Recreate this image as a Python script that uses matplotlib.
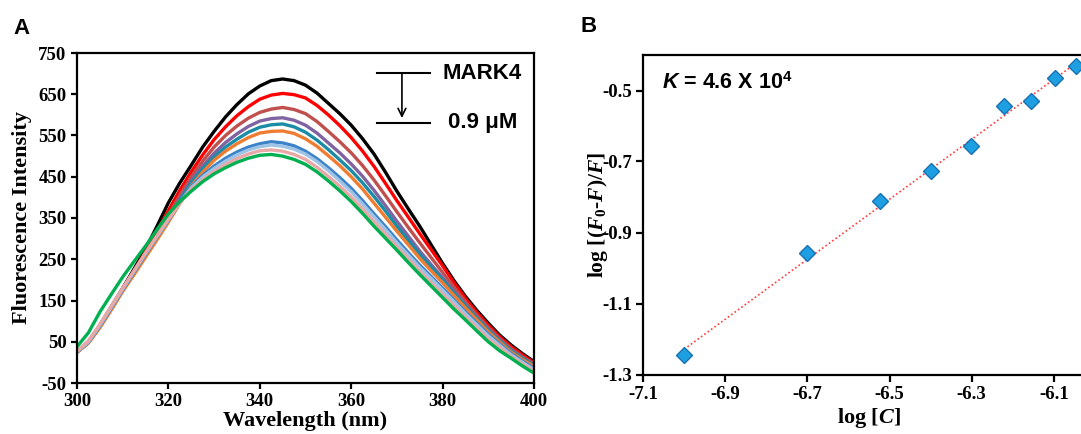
import numpy as np
import matplotlib
matplotlib.use("Agg")
import matplotlib.pyplot as plt

plt.rcParams['mathtext.fontset'] = 'custom'
plt.rcParams['mathtext.rm'] = 'Liberation Serif:bold'
plt.rcParams['mathtext.it'] = 'Liberation Serif:italic:bold'
plt.rcParams['mathtext.bf'] = 'Liberation Sans:bold'
plt.rcParams['mathtext.bfit'] = 'Liberation Sans:italic:bold'
plt.rcParams['axes.unicode_minus'] = False

# ---------------- Panel A data ----------------
wavelength = [300, 302.5, 305, 307.5, 310, 312.5, 315, 317.5, 320, 322.5, 325,
              327.5, 330, 332.5, 335, 337.5, 340, 342.5, 345, 347.5, 350,
              352.5, 355, 357.5, 360, 362.5, 365, 367.5, 370, 372.5, 375,
              377.5, 380, 382.5, 385, 387.5, 390, 392.5, 395, 397.5, 400]

mark4_0 = [26, 50, 90, 135, 180, 227, 275, 330, 387, 435, 478, 522, 560, 595, 625, 651, 670, 683, 687, 683, 672,
           653, 628, 603, 575, 542, 505, 461, 415, 372, 330, 285, 240, 198, 160, 126, 95, 66, 42, 21, 2]
conc_1 = [26, 50, 89, 133, 178, 222, 268, 318, 368, 417, 462, 503, 540, 571, 598, 620, 638, 648, 652, 649, 641,
          623, 600, 574, 545, 512, 475, 434, 392, 352, 312, 273, 234, 193, 155, 121, 90, 62, 38, 18, -1]
conc_2 = [25, 49, 87, 131, 176, 219, 263, 308, 356, 405, 450, 488, 522, 550, 573, 592, 606, 614, 618, 613, 603,
          584, 560, 535, 508, 477, 442, 404, 365, 327, 290, 254, 218, 182, 147, 114, 84, 57, 33, 13, -4]
conc_3 = [25, 48, 86, 130, 175, 218, 261, 304, 350, 396, 440, 476, 507, 533, 554, 572, 585, 591, 593, 587, 575,
          556, 532, 508, 481, 451, 417, 380, 342, 306, 270, 237, 205, 172, 140, 109, 80, 54, 30, 11, -6]
conc_4 = [25, 48, 86, 130, 175, 217, 260, 302, 347, 392, 436, 469, 498, 522, 541, 558, 570, 576, 578, 571, 558,
          539, 516, 491, 465, 435, 402, 367, 330, 296, 262, 231, 200, 168, 137, 107, 78, 52, 28, 10, -7]
conc_5 = [24, 47, 84, 127, 172, 213, 255, 297, 340, 385, 428, 461, 490, 512, 530, 545, 556, 560, 561, 555, 542,
          524, 501, 477, 450, 420, 386, 352, 318, 285, 252, 222, 193, 162, 132, 103, 74, 49, 25, 7, -10]
conc_6 = [25, 49, 88, 132, 176, 219, 262, 304, 345, 388, 426, 453, 476, 495, 510, 522, 530, 535, 532, 525, 512,
          494, 472, 448, 422, 392, 360, 329, 297, 266, 236, 208, 180, 151, 122, 95, 68, 44, 21, 3, -15]
conc_7 = [26, 50, 90, 134, 178, 221, 264, 305, 346, 387, 423, 449, 470, 488, 503, 515, 523, 527, 524, 517, 505,
          487, 465, 440, 414, 384, 353, 322, 290, 260, 230, 203, 175, 147, 118, 91, 64, 41, 18, 0, -18]
conc_8 = [27, 52, 92, 136, 180, 223, 266, 307, 348, 386, 420, 443, 463, 480, 494, 505, 513, 515, 512, 504, 492,
          473, 451, 427, 401, 372, 341, 311, 280, 251, 221, 193, 165, 138, 110, 84, 57, 36, 14, -4, -22]
conc_9 = [38, 72, 122, 165, 207, 245, 282, 322, 360, 390, 415, 438, 457, 472, 485, 495, 502, 504, 500, 492, 480,
          462, 440, 416, 390, 361, 330, 301, 272, 242, 213, 185, 157, 129, 103, 76, 50, 28, 10, -9, -26]

spectra = [mark4_0, conc_1, conc_2, conc_3, conc_4, conc_5, conc_6, conc_7, conc_8, conc_9]
spectra_colors = ['#000000', '#FF0000', '#C0504D', '#8064A2', '#1B8CA6',
                  '#EE7D31', '#3C82C8', '#9DC3E6', '#E8A8A8', '#00B050']

xticks_a = [300, 320, 340, 360, 380, 400]
yticks_a = [-50, 50, 150, 250, 350, 450, 550, 650, 750]

# ---------------- Panel B data ----------------
log_c = [-7.0, -6.70, -6.524, -6.399, -6.302, -6.221, -6.155, -6.098, -6.047]
log_f = [-1.245, -0.959, -0.810, -0.728, -0.655, -0.545, -0.529, -0.466, -0.431]

xticks_b = [-7.1, -6.9, -6.7, -6.5, -6.3, -6.1]
yticks_b = [-1.3, -1.1, -0.9, -0.7, -0.5]

serif_bold = dict(family='Liberation Serif', weight='bold')

fig = plt.figure(figsize=(10.81, 4.34), dpi=100)

# ---------------- Panel A ----------------
axA = fig.add_axes([77/1081, 1-383/434, (534-77)/1081, (383-53)/434])
for ys, c in zip(spectra, spectra_colors):
    axA.plot(wavelength, ys, color=c, lw=2.4, solid_capstyle='round', solid_joinstyle='round')
axA.set_xlim(300, 400)
axA.set_ylim(-50, 750)
axA.set_xticks(xticks_a)
axA.set_yticks(yticks_a)
for sp in axA.spines.values():
    sp.set_linewidth(1.6)
axA.tick_params(direction='out', length=4.5, width=1.6, pad=3)
for lab in axA.get_xticklabels() + axA.get_yticklabels():
    lab.set_fontfamily('Liberation Serif')
    lab.set_fontweight('bold')
    lab.set_fontsize(13.5)
axA.set_xlabel('Wavelength (nm)', fontsize=16, **serif_bold)
axA.xaxis.set_label_coords(0.5, -0.085)
axA.xaxis.label.set_va('top')
axA.set_ylabel('Fluorescence Intensity', fontsize=16, **serif_bold)
axA.yaxis.set_label_coords(-0.098, 0.5)

# legend-like annotation
axA.plot([0.656, 0.772], [0.939, 0.939], transform=axA.transAxes, color='black', lw=1.5)
axA.plot([0.656, 0.772], [0.788, 0.788], transform=axA.transAxes, color='black', lw=1.5)
axA.annotate('', xy=(0.711, 0.803), xytext=(0.711, 0.939), xycoords='axes fraction',
             arrowprops=dict(arrowstyle='->', lw=1.2, color='black', mutation_scale=14,
                             shrinkA=0, shrinkB=0))
axA.text(0.799, 0.939, 'MARK4', transform=axA.transAxes, ha='left', va='center',
         fontsize=16, family='Liberation Sans', weight='bold')
axA.text(0.812, 0.788, '0.9 \u03bcM', transform=axA.transAxes, ha='left', va='center',
         fontsize=16, family='Liberation Sans', weight='bold')

fig.text(21/1081, 1-29/434, 'A', ha='center', va='center', fontsize=16,
         family='Liberation Sans', weight='bold')

# ---------------- Panel B ----------------
axB = fig.add_axes([643/1081, 1-374.5/434, (1081-643)/1081, (374.5-55)/434])
slope, intercept = np.polyfit(log_c, log_f, 1)
fit_x = np.array([min(log_c), max(log_c)])
axB.plot(fit_x, slope*fit_x + intercept, color='#FF3B3B', lw=1.2, ls=(0, (1, 1.5)))
axB.plot(log_c, log_f, ls='none', marker='D', markersize=8.5,
         markerfacecolor='#1E9FE2', markeredgecolor='#1872B0', markeredgewidth=1.0,
         clip_on=False, zorder=3)
axB.set_xlim(-7.1, -6.034)
axB.set_ylim(-1.3, -0.4)
axB.set_xticks(xticks_b)
axB.set_yticks(yticks_b)
axB.set_xticklabels([f'{v:.1f}' for v in xticks_b])
axB.set_yticklabels([f'{v:.1f}' for v in yticks_b])
axB.spines['right'].set_visible(False)
for sp in ['left', 'top', 'bottom']:
    axB.spines[sp].set_linewidth(1.6)
axB.tick_params(direction='out', length=5, width=1.6, pad=3)
for lab in axB.get_xticklabels() + axB.get_yticklabels():
    lab.set_fontfamily('Liberation Serif')
    lab.set_fontweight('bold')
    lab.set_fontsize(13.5)
axB.set_xlabel(r'log [$\mathit{C}$]', fontsize=16, **serif_bold)
axB.xaxis.set_label_coords(0.515, -0.1)
axB.xaxis.label.set_va('top')
axB.set_ylabel(r'log [($\mathit{F}_{\mathit{0}}$-$\mathit{F}$)/$\mathit{F}$]', fontsize=15.5, **serif_bold)
axB.yaxis.set_label_coords(-0.076, 0.5)

axB.text(662/1081, 1-83/434, r'$\mathbfit{K}$ = 4.6 X 10$^{\mathbf{4}}$', transform=fig.transFigure,
         ha='left', va='center', fontsize=15.5, family='Liberation Sans', weight='bold')

fig.text(589/1081, 1-27/434, 'B', ha='center', va='center', fontsize=16,
         family='Liberation Sans', weight='bold')

fig.savefig('out.png', dpi=100)
